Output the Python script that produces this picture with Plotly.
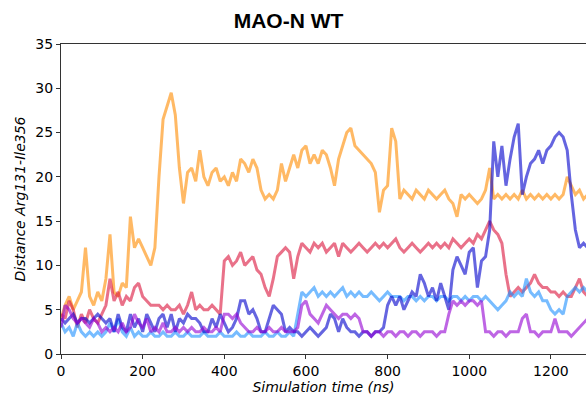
import plotly.graph_objects as go

time_ns = list(range(0, 1300, 10))

orange = [4.0, 5.5, 6.5, 5.0, 6.0, 7.0, 12.0, 6.5, 5.5, 7.0,
          6.0, 8.5, 13.5, 7.0, 6.5, 8.0, 7.5, 15.5, 12.0, 13.0,
          12.0, 11.0, 10.0, 12.0, 20.0, 26.5, 28.0, 29.5, 27.0, 21.0,
          17.0, 20.5, 21.0, 19.5, 23.0, 20.0, 19.0, 20.5, 21.0, 19.5,
          20.0, 19.0, 20.5, 19.5, 22.0, 21.5, 20.5, 22.0, 21.0, 18.5,
          17.5, 18.0, 17.5, 18.5, 21.5, 19.5, 21.0, 22.5, 21.0, 23.0,
          23.5, 21.5, 22.5, 21.5, 23.0, 22.5, 21.0, 19.0, 22.0, 23.5,
          25.0, 25.5, 23.5, 23.0, 22.5, 22.0, 21.5, 20.5, 16.0, 18.5,
          19.0, 25.5, 24.0, 17.5, 18.5, 18.0, 17.5, 18.5, 18.0, 17.5,
          18.5, 18.0, 17.5, 18.0, 18.5, 17.5, 17.0, 15.5, 18.0, 17.5,
          18.0, 17.5, 17.0, 17.5, 18.5, 21.0, 17.5, 18.0, 17.5, 18.0,
          17.5, 18.0, 17.5, 18.5, 17.5, 18.0, 17.5, 18.0, 17.5, 18.0,
          17.5, 18.0, 17.5, 18.0, 20.0, 19.0, 18.0, 18.5, 17.5, 18.0]

red = [4.5, 4.0, 6.0, 5.0, 3.0, 4.5, 3.5, 5.0, 4.0, 3.5,
       4.5, 5.5, 8.5, 6.0, 7.0, 5.5, 6.5, 6.0, 7.5, 8.0,
       6.5, 6.0, 5.5, 5.5, 5.5, 5.0, 5.5, 5.0, 5.0, 5.5,
       4.5, 5.5, 7.0, 5.0, 5.5, 5.0, 5.0, 5.5, 5.0, 4.5,
       10.5, 11.0, 10.0, 10.5, 11.5, 10.0, 10.5, 11.0, 9.5, 9.0,
       7.5, 6.5, 8.5, 11.0, 11.5, 12.0, 11.5, 8.5, 11.0, 12.5,
       12.0, 11.5, 12.5, 12.0, 12.5, 11.5, 12.0, 12.5, 11.0, 12.5,
       12.0, 11.5, 12.0, 12.5, 12.0, 11.5, 12.0, 12.5, 12.0, 12.5,
       12.0, 12.5, 13.0, 12.0, 11.5, 12.0, 12.5, 12.0, 11.5, 12.0,
       12.5, 12.0, 12.5, 12.0, 12.5, 12.0, 13.0, 12.5, 12.0, 12.5,
       13.0, 12.5, 13.5, 13.0, 14.0, 15.0, 14.0, 13.5, 12.5, 9.0,
       6.5, 7.0, 7.5, 7.0, 7.5, 8.0, 9.0, 8.0, 7.5, 7.5,
       7.0, 7.0, 6.5, 7.0, 6.5, 6.5, 7.5, 8.5, 7.0, 6.5]

light_blue = [3.5, 2.5, 3.0, 2.0, 3.5, 2.5, 2.0, 2.5, 2.0, 2.5,
              2.0, 2.5, 3.5, 2.5, 4.0, 2.5, 2.0, 3.0, 2.0, 2.5,
              2.0, 2.0, 2.5, 2.0, 2.0, 2.5, 2.0, 2.0, 2.5, 2.0,
              2.0, 2.5, 2.0, 2.0, 2.0, 2.5, 2.0, 2.0, 2.0, 2.5,
              2.0, 2.0, 2.0, 2.5, 2.0, 2.0, 2.5, 2.0, 2.0, 2.0,
              2.5, 2.0, 2.0, 2.5, 2.0, 2.0, 2.5, 2.0, 4.5, 7.0,
              6.5, 7.0, 7.5, 6.5, 7.0, 6.5, 7.0, 6.5, 7.0, 7.5,
              6.5, 7.0, 6.5, 7.0, 6.5, 6.5, 7.0, 6.5, 6.0, 6.5,
              7.0, 6.5, 6.5, 6.5, 6.0, 6.5, 6.5, 6.0, 6.5, 6.0,
              6.5, 6.5, 6.0, 6.5, 6.5, 6.0, 6.5, 6.5, 6.0, 6.5,
              6.0, 6.5, 6.5, 6.0, 6.5, 6.0, 5.5, 5.0, 5.5, 6.0,
              7.0, 6.5, 7.0, 6.5, 8.5, 7.0, 6.5, 7.0, 6.0, 6.0,
              5.0, 4.5, 5.0, 4.5, 6.5, 7.0, 7.5, 7.0, 7.5, 7.0]

dark_blue = [4.0, 3.5, 4.0, 4.5, 3.5, 4.0, 4.0, 3.5, 4.0, 4.5,
             4.0, 3.5, 4.0, 2.5, 4.5, 3.0, 2.5, 4.5, 3.0, 4.0,
             2.5, 4.5, 3.5, 2.5, 4.0, 4.5, 3.0, 4.5, 2.5, 4.0,
             3.5, 4.5, 4.0, 4.0, 3.5, 2.5, 2.5, 4.0, 3.0, 4.5,
             3.5, 2.5, 3.0, 4.0, 6.0, 6.0, 4.5, 5.0, 4.0, 2.5,
             2.5, 4.0, 5.5, 5.0, 4.5, 2.5, 3.0, 2.5, 2.5, 2.0,
             2.5, 3.0, 2.5, 2.0, 2.5, 3.0, 4.5, 4.0, 2.5, 4.0,
             3.0, 2.5, 2.5, 2.0, 2.5, 2.5, 2.0, 2.5, 2.5, 3.0,
             5.5, 6.5, 5.5, 6.5, 5.0, 6.0, 7.0, 6.5, 9.0, 8.0,
             6.5, 7.5, 6.0, 8.0, 6.5, 5.0, 9.5, 11.0, 10.0, 9.0,
             11.5, 12.0, 7.5, 10.5, 11.0, 14.0, 24.0, 20.0, 23.5, 19.0,
             22.0, 24.5, 26.0, 18.0, 20.0, 21.5, 22.0, 23.0, 21.5, 23.0,
             23.5, 24.5, 25.0, 24.5, 23.0, 18.0, 14.0, 12.0, 12.5, 12.0]

purple = [3.0, 5.5, 5.0, 4.0, 3.5, 4.0, 3.5, 3.0, 4.0, 3.5,
          2.5, 3.0, 2.5, 3.0, 2.5, 3.5, 2.5, 3.0, 4.5, 3.5,
          3.0, 4.0, 2.5, 3.0, 2.5, 3.5, 2.5, 2.5, 3.0, 2.5,
          3.0, 2.5, 3.0, 2.5, 2.5, 3.0, 2.5, 2.5, 3.0, 2.5,
          4.5, 4.5, 4.0, 4.5, 3.5, 3.0, 2.5, 2.5, 3.0, 2.5,
          2.5, 3.0, 2.5, 2.5, 3.0, 2.5, 2.5, 2.5, 3.0, 5.5,
          6.0, 4.5, 4.0, 3.5, 4.5, 5.5, 5.0, 4.5, 4.0, 4.5,
          4.5, 4.0, 4.5, 4.0, 2.5, 2.5, 2.0, 2.5, 2.5, 2.0,
          2.5, 2.5, 2.0, 2.5, 2.5, 2.0, 2.5, 2.5, 2.0, 2.5,
          2.5, 2.5, 2.0, 2.5, 2.5, 4.5, 6.0, 5.5, 6.0, 5.5,
          6.0, 6.0, 5.5, 6.0, 2.5, 2.5, 2.0, 2.5, 2.5, 2.0,
          2.5, 2.5, 2.5, 4.0, 4.5, 2.5, 2.5, 2.0, 2.5, 2.5,
          2.5, 4.0, 2.5, 2.5, 2.5, 2.0, 2.5, 3.0, 3.5, 4.0]

series = [
    ("orange", orange, "#ff8c00"),
    ("red", red, "#dc143c"),
    ("light_blue", light_blue, "#1e90ff"),
    ("dark_blue", dark_blue, "#0000cd"),
    ("purple", purple, "#9400d3"),
]

fig = go.Figure()
for name, vals, col in series:
    fig.add_trace(go.Scatter(x=time_ns, y=vals, mode="lines", name=name,
                             line=dict(color=col, width=3), opacity=0.6,
                             showlegend=False))

axis_font = dict(family="DejaVu Sans", size=14, color="black")
fig.update_layout(
    width=586, height=397,
    margin=dict(l=61, r=0, t=44, b=43),
    paper_bgcolor="white", plot_bgcolor="white",
    title=dict(text="<b>MAO-N WT</b>", x=(288.5 - 61) / 525, xanchor="center",
               y=1 - 21 / 397, yanchor="middle", yref="container", xref="paper",
               font=dict(family="Liberation Sans", size=21, color="black")),
)
fig.update_xaxes(range=[0, 1286], tickvals=[0, 200, 400, 600, 800, 1000, 1200],
                 showline=True, linecolor="#333333", linewidth=1, mirror=True,
                 ticks="outside", ticklen=4, tickcolor="#333333",
                 showgrid=False, zeroline=False, tickfont=axis_font,
                 title=dict(text="<i>Simulation time (ns)</i>", font=axis_font, standoff=2))
fig.update_yaxes(range=[0, 35], tickvals=[0, 5, 10, 15, 20, 25, 30, 35],
                 showline=True, linecolor="#333333", linewidth=1,
                 ticks="outside", ticklen=4, tickcolor="#333333",
                 showgrid=False, zeroline=False, tickfont=axis_font,
                 title=dict(text="<i>Distance Arg131-Ile356</i>", font=axis_font, standoff=6))

fig.write_html("out.html")
